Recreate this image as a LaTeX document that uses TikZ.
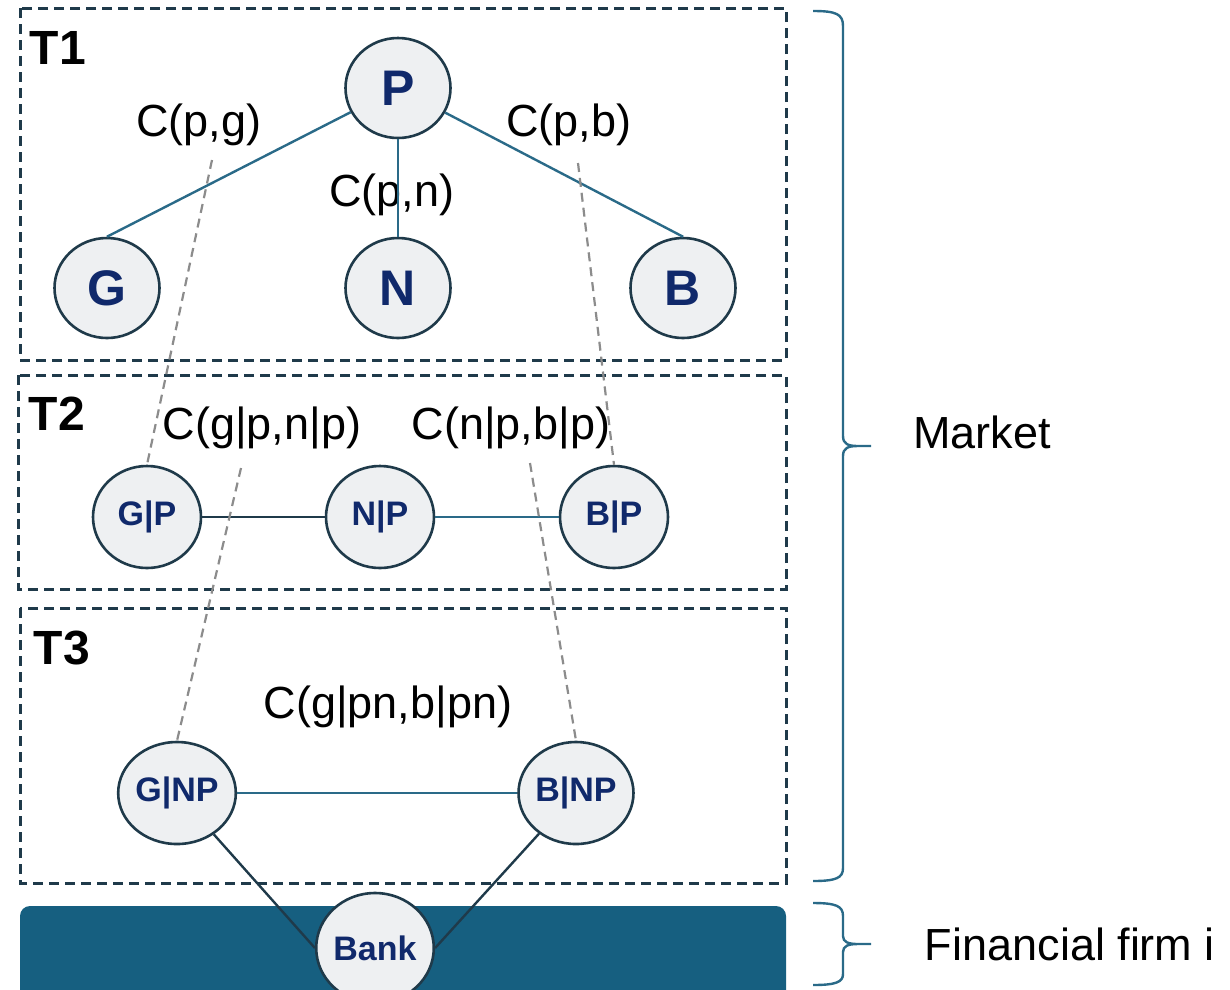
\documentclass[tikz,border=0pt]{standalone}
\usepackage{fontspec}
\setmainfont{Liberation Sans}
\usepackage{xcolor}
\usepackage{tikz}
\usetikzlibrary{shapes.geometric}

\definecolor{boxline}{HTML}{1F3A4A}
\definecolor{tealline}{HTML}{2A6A88}
\definecolor{bankbar}{HTML}{165F80}
\definecolor{nodefill}{HTML}{EEF0F2}
\definecolor{nodetext}{HTML}{10296B}

\begin{document}
\begin{tikzpicture}[x=1pt, y=-1pt, line width=2pt,
    tree/.style={draw=boxline, line width=3pt, dash pattern=on 10pt off 6pt},
    var/.style={ellipse, draw=boxline, line width=2.6pt, fill=nodefill, inner sep=0pt,
      text=nodetext, minimum width=108pt, minimum height=102pt,
      font=\bfseries\fontsize{34}{34}\selectfont},
    topvar/.style={var, minimum width=105pt, minimum height=100pt,
      font=\bfseries\fontsize{50}{50}\selectfont},
    pair/.style={font=\fontsize{45}{45}\selectfont},
    level/.style={font=\bfseries\fontsize{48}{48}\selectfont},
    link/.style={tealline, line width=2.4pt},
    darklink/.style={boxline, line width=2.4pt},
    copula/.style={gray!90, line width=2.2pt, dash pattern=on 9pt off 6pt}]
  \useasboundingbox (0,0) rectangle (1230,989);
  % ── Trees (dashed frames) ───────────────────────────────────────────────
  \draw[tree] (20,8) rectangle (786,360);
  \draw[tree] (18,375) rectangle (786,589);
  \draw[tree] (20,608) rectangle (786,883);
  \node[level] (t1) at (58,48) {T1};
  \node[level] (t2) at (57,414) {T2};
  \node[level] (t3) at (62,648) {T3};
  % ── Financial firm bar ──────────────────────────────────────────────────
  \fill[bankbar, rounded corners=10pt] (20,906) rectangle (786,1010);
  % ── Nodes ───────────────────────────────────────────────────────────────
  \node[topvar] (P) at (398,88) {P};
  \node[topvar] (G) at (107,288) {G};
  \node[topvar] (N) at (398,288) {N};
  \node[topvar] (B) at (683,288) {B};
  \node[var] (GP) at (147,517) {G|P};
  \node[var] (NP) at (380,517) {N|P};
  \node[var] (BP) at (614,517) {B|P};
  \node[var] (GNP) at (177,793) {G|NP};
  \node[var] (BNP) at (576,793) {B|NP};
  \node[var, minimum width=110pt, minimum height=110pt] (Bank) at (375,948) {Bank};
  % ── Pair labels ─────────────────────────────────────────────────────────
  \node[pair] (cpg) at (199,125) {C(p,g)};
  \node[pair] (cpn) at (392,195) {C(p,n)};
  \node[pair] (cpb) at (569,125) {C(p,b)};
  \node[pair] (cgn) at (262,428) {C(g|p,n|p)};
  \node[pair] (cnb) at (511,428) {C(n|p,b|p)};
  \node[pair] (cgb) at (388,707) {C(g|pn,b|pn)};
  % ── Edges ───────────────────────────────────────────────────────────────
  \draw[link] (P) -- (G.north);
  \draw[link] (P) -- (N);
  \draw[link] (P) -- (B.north);
  \draw[darklink] (GP) -- (NP);
  \draw[link] (NP) -- (BP);
  \draw[link] (GNP) -- (BNP);
  \draw[darklink] (GNP) -- (Bank.west);
  \draw[darklink] (BNP) -- (Bank.east);
  % ── Edge -> node of next tree (grey dashed) ─────────────────────────────
  \coordinate (dpg) at (212,160);
  \coordinate (dpb) at (578,163);
  \coordinate (dgn) at (241,468);
  \coordinate (dnb) at (530,463);
  \draw[copula] (dpg) -- (GP.north);
  \draw[copula] (dpb) -- (BP.north);
  \draw[copula] (dgn) -- (GNP.north);
  \draw[copula] (dnb) -- (BNP.north);
  % ── Braces ──────────────────────────────────────────────────────────────
  \draw[tealline, line width=2.4pt]
    (813,11) .. controls (836,11) and (843,14) .. (843,26) -- (843,436)
    .. controls (843,444) and (848,446) .. (858,446) -- (871,446)
    (858,446) .. controls (848,446) and (843,448) .. (843,456) -- (843,868)
    .. controls (843,878) and (836,881) .. (813,881);
  \draw[tealline, line width=2.4pt]
    (813,903) .. controls (836,903) and (843,906) .. (843,916) -- (843,936)
    .. controls (843,942) and (848,944) .. (858,944) -- (871,944)
    (858,944) .. controls (848,944) and (843,946) .. (843,952) -- (843,974)
    .. controls (843,982) and (836,985) .. (813,985);
  \node[pair] (market) at (982,432) {Market};
  \node[pair] (firm) at (1070,944) {Financial firm i};
\end{tikzpicture}
\end{document}
